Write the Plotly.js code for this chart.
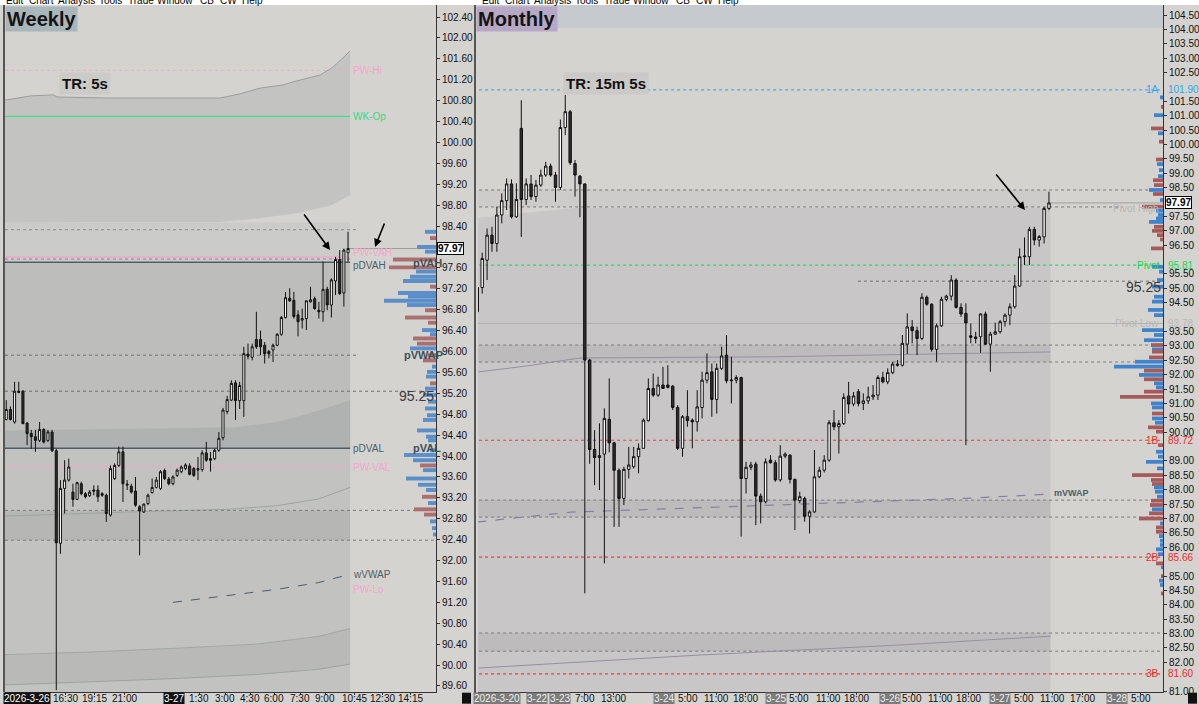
<!DOCTYPE html>
<html><head><meta charset="utf-8">
<script src="https://cdn.plot.ly/plotly-3.0.1.min.js"></script>
<style>html,body{margin:0;padding:0;background:#d4d3d0;overflow:hidden}#chart{width:1199px;height:704px}</style>
</head><body><div id="chart"></div>
<script>
// ---------------- Weekly panel data ----------------
const wOpen  = [94.70,94.89,94.65,95.24,95.24,94.63,94.43,94.37,94.30,94.51,94.30,94.46,94.10,92.33,93.38,93.54,93.31,93.17,93.47,93.28,93.24,93.35,93.35,93.28,93.25,92.87,93.57,93.82,94.08,93.44,93.42,93.33,93.03,92.93,93.09,93.30,93.40,93.38,93.72,93.56,93.47,93.63,93.70,93.76,93.81,93.76,93.73,93.74,94.06,93.95,93.95,94.11,94.35,94.85,95.07,95.40,95.06,95.06,95.95,95.89,96.23,96.23,96.12,96.00,96.03,96.12,96.33,96.65,97.02,96.98,96.70,96.60,96.63,96.95,97.01,96.79,96.76,97.19,96.89,97.35,97.76,97.12,97.89];
const wHigh  = [95.07,94.95,95.42,95.42,95.26,94.65,94.50,94.50,94.65,94.53,94.50,94.50,94.14,93.54,93.92,93.95,93.47,93.51,93.51,93.31,93.35,93.44,93.44,93.31,93.28,93.82,93.86,94.18,94.18,93.54,93.47,93.60,93.06,93.09,93.28,93.57,93.60,93.73,93.76,93.60,93.63,93.76,93.82,93.86,93.86,93.79,93.98,94.11,94.27,94.08,94.14,94.46,94.92,95.15,95.45,95.45,95.42,96.09,96.15,96.15,96.76,96.40,96.18,96.03,96.15,96.35,96.68,97.14,97.21,97.14,96.79,96.82,96.98,97.24,97.05,96.95,97.72,97.24,97.40,97.81,97.94,97.97,98.29];
const wLow   = [94.68,94.68,94.62,95.20,94.61,94.21,94.14,94.08,94.27,94.24,94.27,94.08,89.52,92.13,92.90,93.51,93.03,93.16,93.25,93.19,93.22,93.25,93.12,93.22,92.74,92.84,93.54,93.79,93.12,93.35,93.28,93.03,92.10,92.91,93.06,93.28,93.38,93.35,93.54,93.44,93.44,93.60,93.67,93.73,93.63,93.60,93.54,93.70,93.89,93.70,93.92,94.08,94.30,94.80,95.05,94.69,94.90,94.75,95.85,95.83,96.05,95.93,95.77,95.87,95.80,96.10,96.30,96.63,96.95,96.63,96.29,96.44,96.41,96.94,96.80,96.63,96.57,96.79,96.65,97.08,97.08,96.86,97.72];
const wClose = [94.89,94.70,95.24,95.22,94.62,94.43,94.37,94.30,94.51,94.27,94.46,94.10,92.34,93.38,93.54,93.79,93.17,93.49,93.28,93.22,93.31,93.33,93.22,93.25,92.90,93.76,93.82,94.08,93.47,93.46,93.31,93.06,92.95,93.08,93.25,93.40,93.54,93.70,93.57,93.47,93.60,93.73,93.79,93.83,93.65,93.63,93.76,94.06,93.92,93.92,94.11,94.34,94.88,95.08,95.39,95.06,95.35,95.96,95.91,96.09,96.09,96.09,95.96,95.96,96.12,96.33,96.65,97.03,96.97,96.67,96.57,96.63,96.97,96.99,96.82,96.76,97.19,96.89,97.37,97.76,97.11,97.94,97.97];
const wTickLabels = ['16:30','19:15','21:00','1:30','3:00','4:30','6:00','7:30','9:00','10:45','12:30','14:15'];
const wTickIdx    = [14.1,21.1,28.3,46.3,52.5,58.5,64.3,70.5,76.5,83.5,90.2,96.9];
const wDateLabels = ['2026-3-26','3-27'];
const wDateIdx    = [5.0,40.3];
const wPriceTicks = [102.4,102.0,101.6,101.2,100.8,100.4,100.0,99.6,99.2,98.8,98.4,97.6,97.2,96.8,96.4,96.0,95.6,95.2,94.8,94.4,94.0,93.6,93.2,92.8,92.4,92.0,91.6,91.2,90.8,90.4,90.0,89.6];
// levels (price) and names
const wLevelNames  = ['PW-Hi','WK-Op','PW-VAH','pDVAH','pDVAL','PW-VAL','wVWAP','PW-Lo'];
const wLevelValues = [101.38,100.50,97.81,97.71,94.15,93.79,91.74,91.45];
const wDotLevels   = [98.33,97.77,95.93,95.24,92.96,92.39];
// envelope curves
const wEnvTopIdx = [-0.3,5.8,11.3,12.2,24.2,51.3,56.1,60.9,66.4,68.8,75.3,78.4,82.5];
const wEnvTop    = [100.81,100.89,100.91,100.87,100.85,100.85,100.93,101.04,101.10,101.16,101.29,101.44,101.75];
const wEnvBotIdx = [-0.3,22,51,61,70,78,82.5];
const wEnvBot    = [98.47,98.48,98.48,98.55,98.65,98.80,98.99];
const wVaCurveIdx = [-0.3,55,65,72,78,82.5];
const wVaCurve    = [94.49,94.55,94.65,94.80,94.95,95.07];
const wLowCurveIdx = [-0.3,30,53,65,75,82.5];
const wLowCurve    = [92.85,92.93,92.98,93.05,93.18,93.40];
const wVwapIdx = [40,55,65,75,82.5];
const wVwap    = [91.20,91.35,91.45,91.58,91.74];
const wBotCurveIdx = [-0.3,20,40,60,75,82.5];
const wBotCurveA   = [89.62,89.68,89.74,89.82,89.92,90.02];
const wBotCurveB   = [90.20,90.25,90.32,90.40,90.55,90.70];
// weekly volume profile
const wProfPrice = [98.29,98.17,98.00,97.91,97.76,97.61,97.53,97.43,97.35,97.24,97.12,97.05,96.97,96.89,96.79,96.65,96.55,96.41,96.33,96.25,96.15,96.06,95.93,95.83,95.71,95.61,95.52,95.39,95.29,95.17,95.04,94.91,94.78,94.69,94.49,94.37,94.30,94.11,94.02,93.92,93.82,93.73,93.57,93.45,93.35,93.22,93.10,92.98,92.88,92.75,92.62,92.50];
const wProfVol   = [11,6,19,11,43,47,20,26,33,6,38,28,52,29,11,31,8,14,6,23,19,26,8,13,4,9,10,6,11,13,8,11,9,13,19,10,8,6,32,23,16,13,30,18,10,14,8,22,12,6,4,3];
const wProfSide  = ['b','r','b','b','r','r','b','b','b','r','b','b','b','b','r','r','r','b','b','r','r','b','r','r','b','b','b','r','b','b','b','b','b','b','b','b','b','b','b','b','r','b','b','b','b','r','b','r','r','b','b','b'];

// ---------------- Monthly panel data ----------------
const mOpen  = [94.19,95.03,95.98,96.85,96.56,97.55,98.05,98.63,97.49,100.56,98.09,98.63,98.19,98.59,98.94,99.25,98.94,98.51,100.59,101.14,99.34,98.90,98.63,92.51,89.40,89.12,89.24,90.45,89.63,88.68,87.70,88.71,88.80,89.15,89.44,90.40,91.52,91.29,91.64,91.64,91.60,90.86,89.44,90.54,90.42,90.36,90.86,91.81,92.10,91.14,92.22,92.68,91.79,91.81,91.90,88.39,88.78,88.89,87.78,87.58,89.03,88.94,88.34,89.17,89.20,88.36,87.62,87.70,87.08,87.23,88.45,88.68,89.03,90.33,90.19,90.30,91.26,90.98,91.41,91.00,91.09,91.23,91.29,91.90,91.75,92.07,92.37,92.33,93.06,93.66,93.53,93.26,94.69,94.45,92.88,93.70,94.62,94.73,95.29,94.34,94.13,93.35,93.31,93.32,94.11,93.06,93.41,93.49,93.84,94.07,94.36,95.08,96.10,96.10,97.05,96.68,96.79,97.78];
const mHigh  = [95.23,96.24,97.08,97.14,97.84,98.30,98.82,98.79,98.65,101.54,98.82,98.94,98.77,99.13,99.40,99.34,99.05,100.87,101.72,101.20,99.46,98.94,98.65,92.55,90.07,90.31,90.83,91.87,89.67,88.74,88.80,89.49,89.49,89.61,90.48,91.87,92.04,91.93,92.27,92.33,91.64,90.94,90.60,91.46,90.48,91.46,92.10,92.74,92.39,92.39,92.97,93.38,92.62,91.98,91.93,88.97,88.97,88.97,87.87,89.09,89.20,89.03,89.55,89.30,89.24,88.39,87.93,87.76,87.29,89.38,88.80,89.20,90.42,90.77,90.42,91.35,91.75,91.40,91.50,91.35,91.58,91.64,91.98,92.10,92.22,92.45,92.51,93.38,94.13,93.90,93.67,94.83,94.75,94.48,93.78,94.71,94.78,95.46,95.35,94.48,94.48,93.78,93.49,94.13,94.19,93.49,93.81,93.90,94.13,94.48,95.46,96.39,96.77,97.14,97.14,96.85,97.84,98.36];
const mLow   = [93.92,94.82,95.29,96.27,96.27,97.26,97.72,97.43,97.45,96.79,97.90,98.07,98.01,98.53,98.88,98.88,98.01,98.42,100.33,99.29,98.19,97.47,84.40,88.90,88.16,87.99,85.44,89.30,86.71,86.71,87.47,88.39,88.74,88.57,89.43,90.37,91.23,91.23,91.52,91.52,90.77,89.38,89.15,90.19,89.44,90.02,90.48,91.70,90.54,90.65,92.16,91.70,91.00,91.70,86.37,87.87,88.68,86.77,86.83,87.53,88.91,88.28,88.28,89.10,88.22,86.60,87.53,86.89,86.48,87.20,88.40,88.60,88.97,90.07,89.26,90.25,90.65,90.90,90.90,90.77,90.98,91.12,91.12,91.70,91.67,92.02,92.28,92.28,92.72,93.09,92.68,93.20,94.40,92.80,92.45,93.66,94.55,94.58,94.30,94.01,89.55,93.09,93.09,92.76,93.03,92.10,93.38,93.43,93.67,93.72,94.30,95.06,95.81,95.81,96.50,96.45,96.56,97.72];
const mClose = [95.03,96.04,96.85,96.56,97.55,98.05,98.63,97.49,98.09,98.09,98.63,98.19,98.59,98.94,99.25,98.94,98.51,100.59,101.14,99.37,98.94,98.63,92.51,89.40,89.12,89.19,90.48,89.63,88.68,87.70,88.71,88.86,89.15,89.44,90.42,91.52,91.29,91.64,91.52,91.56,90.86,89.44,90.54,90.40,90.36,90.88,91.81,92.07,91.14,92.22,92.65,91.79,91.81,91.90,88.39,88.78,88.86,87.78,87.58,88.97,88.94,88.34,89.17,89.24,88.36,87.64,87.76,87.08,87.23,88.45,88.68,89.03,90.33,90.19,90.30,91.21,90.98,91.26,91.00,91.09,91.23,91.29,91.90,91.75,92.07,92.37,92.33,93.09,93.66,93.53,93.26,94.69,94.45,92.88,93.70,94.62,94.73,95.29,94.34,94.11,93.80,93.30,93.26,94.11,93.06,93.41,93.49,93.84,94.07,94.36,95.08,96.10,96.12,97.05,96.68,96.80,97.78,97.97];
const mTickLabels = ['7:00','13:00','5:00','11:00','18:00','5:00','11:00','18:00','5:00','11:00','18:00','5:00','11:00','17:00','5:00'];
const mTickIdx    = [22.0,27.9,43.1,48.9,54.9,65.9,71.8,77.7,89.0,94.7,100.6,111.9,117.8,123.8,135.8];
const mDateLabels = ['2026-3-20','3-22','3-23','3-24','3-25','3-26','3-27','3-28'];
const mDateIdx    = [4.0,12.2,16.9,38.2,61.1,84.5,107.0,130.9];
const mPriceTicks = [104.5,104.0,103.5,103.0,102.5,101.5,101.0,100.5,100.0,99.5,99.0,98.5,97.5,97.0,96.5,95.5,95.0,94.5,93.5,93.0,92.5,92.0,91.5,91.0,90.5,90.0,89.0,88.5,88.0,87.5,87.0,86.5,86.0,85.0,84.5,84.0,83.5,83.0,82.5,82.0,81.0];
const mLevelNames  = ['1A','Pivot High','Pivot','Pivot Low','1B','2B','3B'];
const mLevelValues = [101.90,97.78,95.81,93.78,89.72,85.66,81.60];
const mDotLevels   = [98.42,97.83,93.03,92.44,87.64,87.05,83.02,82.39];
const mBands       = [[93.03,92.44],[87.64,87.05],[83.02,82.39]];
const mVaTopIdx = [0,11,20,117.3];
const mVaTop    = [97.44,97.65,97.79,97.80];
const mUpperVwapIdx = [0,10,21,60,117.3];
const mUpperVwap    = [92.09,92.30,92.58,92.62,92.79];
const mVwapIdx = [0,19,73,101,117.3];
const mVwap    = [86.88,87.22,87.54,87.71,87.85];
const mLowVwapIdx = [0,45,86,117.3];
const mLowVwap    = [81.80,82.25,82.60,82.91];
const mProfPrice = [101.64,101.31,101.02,100.56,100.39,100.10,99.48,99.32,99.11,98.90,98.76,98.59,98.42,98.28,98.07,97.84,97.70,97.55,97.43,97.31,97.14,97.00,96.85,96.70,96.39,95.75,95.58,95.29,95.06,94.71,94.54,94.25,94.07,93.55,93.38,93.20,93.03,92.88,92.80,92.60,92.45,92.28,92.14,91.99,91.84,91.70,91.56,91.41,91.23,91.00,90.86,90.65,90.48,90.33,90.17,90.02,89.55,89.32,89.15,88.97,88.74,88.51,88.34,88.20,88.08,87.93,87.76,87.62,87.47,87.32,87.18,87.00,86.83,86.69,86.54,86.39,86.23,86.08,85.93,85.76,85.44,85.30,85.00,84.84,84.69,84.40];
const mProfVol   = [3,2,9,12,5,4,7,6,4,5,10,9,14,10,3,21,7,5,7,14,9,11,6,3,12,11,4,6,11,9,11,15,9,21,9,19,12,11,11,14,28,49,19,24,19,9,7,19,43,12,11,11,11,8,15,7,5,7,5,17,6,31,12,11,9,8,6,12,13,11,14,24,3,7,7,4,3,3,7,5,7,2,2,4,3,2];
const mProfSide  = ['b','r','b','r','b','r','r','b','b','b','r','r','b','r','b','r','b','b','b','b','r','r','r','r','r','b','b','b','b','b','b','b','b','b','b','b','r','b','r','r','b','b','r','b','r','b','b','r','r','b','b','r','b','b','r','r','r','b','b','b','b','r','r','r','b','b','b','r','r','b','r','r','b','r','r','b','b','b','b','b','r','b','r','b','b','r'];
const lastPrice = 97.97;

// ---------------- helpers ----------------
const W = 1199, H = 704, T = 5, B = 12, PH = H - T - B;
const px = x => x / W;
const py = y => 1 - (y - T) / PH;
const FONT = 'Liberation Sans, Arial, sans-serif';
const shapes = [];
function pathOf(xs, ys, close) {
  return xs.map((x, i) => (i ? 'L' : 'M') + x + ',' + ys[i]).join(' ') + (close ? ' Z' : '');
}
function polyFill(xa, ya, xsT, top, xsB, bot, color) {
  shapes.push({type:'path', xref:xa, yref:ya, layer:'below', fillcolor:color, line:{width:0},
    path: pathOf(xsT.concat(xsB.slice().reverse()), top.concat(bot.slice().reverse()), true)});
}
function band(xa, ya, i0, i1, hi, lo, color) {
  shapes.push({type:'rect', xref:xa, yref:ya, layer:'below', x0:i0, x1:i1, y0:lo, y1:hi, fillcolor:color, line:{width:0}});
}
function hline(xa, ya, i0, i1, v, color, dash, width) {
  shapes.push({type:'line', xref:xa, yref:ya, layer:'below', x0:i0, x1:i1, y0:v, y1:v, line:{color:color, dash:dash || 'solid', width:width || 1}});
}
function curve(xa, ya, xs, ys, color, dash, width) {
  shapes.push({type:'path', xref:xa, yref:ya, layer:'below', path: pathOf(xs, ys, false), line:{color:color, dash:dash || 'solid', width:width || 1}});
}
const idx = a => a.map((_, i) => i);
const traces = [];

// ---------------- Weekly panel layers ----------------
const WL = -0.3, WR = 103.1, WEND = 82.5;
const wYmin = 89.485, wYmax = 102.63;
band('x','y', WL, WEND, wLevelValues[3], wYmin - 1, '#c2c3c1');
band('x','y', WL, WEND, wEnvBot[0], wLevelValues[3], '#cbcbc9');
polyFill('x','y', wEnvTopIdx, wEnvTop, wEnvBotIdx, wEnvBot, '#c3c4c2');
band('x','y', WL, WEND, wLevelValues[3], wLevelValues[4], '#bdbebc');
polyFill('x','y', wVaCurveIdx, wVaCurve, [WL, WEND], [wLevelValues[4], wLevelValues[4]], '#afb2b1');
band('x','y', WL, WEND, wDotLevels[4], wDotLevels[5], '#b6b7b5');
polyFill('x','y', wBotCurveIdx, wBotCurveB, wBotCurveIdx, wBotCurveA, '#b9bab8');
curve('x','y', wLowCurveIdx, wLowCurve, '#9ea3a3', 'solid', 1);
curve('x','y', wBotCurveIdx, wBotCurveA, '#9ea3a3', 'solid', 1);
curve('x','y', wBotCurveIdx, wBotCurveB, '#a3a7a7', 'solid', 1);
curve('x','y', wEnvTopIdx, wEnvTop, '#9b9e9e', 'solid', 1);
curve('x','y', wVwapIdx, wVwap, '#4d5c66', 'dash', 1);
hline('x','y', WL, WEND, wLevelValues[0], '#f4a6cd', 'dot', 1);
hline('x','y', WL, WEND, wLevelValues[1], '#3fe08a', 'solid', 1.2);
hline('x','y', WL, 84, wDotLevels[0], '#8a8a8a', 'dot', 1);
hline('x','y', WL, WEND, wLevelValues[2], '#f0a6c8', 'solid', 1.5);
hline('x','y', WL, WEND, wDotLevels[1], '#8a8a8a', 'dot', 1);
hline('x','y', WL, WEND, wLevelValues[3], '#4c5e66', 'solid', 1.5);
hline('x','y', WL, 84, wDotLevels[2], '#6e6e6e', 'dot', 1);
hline('x','y', WL, WR, wDotLevels[3], '#6e6e6e', 'dot', 1);
hline('x','y', WL, WEND, wLevelValues[4], '#4c5e66', 'solid', 1.5);
hline('x','y', WL, WEND, wLevelValues[5], '#f0a6c8', 'solid', 1.2);
hline('x','y', WL, WR, wDotLevels[4], '#7a7a7a', 'dot', 1);
hline('x','y', WL, WR, wDotLevels[5], '#7a7a7a', 'dot', 1);
hline('x','y', 82, WR, lastPrice, '#9a9a9a', 'solid', 1);

traces.push({type:'bar', orientation:'h', x: wProfVol, y: wProfPrice, width:0.075, xaxis:'x3', yaxis:'y',
  marker:{color: wProfSide.map(s => s === 'b' ? '#5b8fca' : '#a9706f'), line:{width:0}}, hoverinfo:'skip', showlegend:false});
traces.push({type:'candlestick', x: idx(wOpen), open: wOpen, high: wHigh, low: wLow, close: wClose, xaxis:'x', yaxis:'y',
  increasing:{line:{color:'#111', width:1}, fillcolor:'#ffffff'}, decreasing:{line:{color:'#111', width:1}, fillcolor:'#2e2e2e'},
  whiskerwidth:0, hoverinfo:'skip', showlegend:false});

// ---------------- Monthly panel layers ----------------
const ML = 0.14, MR = 140.34, MEND = 117.3;
const mYmin = 80.97, mYmax = 104.85;
band('x2','y2', -1, MR + 2, mYmax + 1, 104.05, '#c6c9cd');
band('x2','y2', ML - 1, MEND, mDotLevels[0], mDotLevels[1], '#cdcccb');
polyFill('x2','y2', mVaTopIdx, mVaTop, [ML - 1, MEND], [mYmin - 1, mYmin - 1], '#c9c6c8');
mBands.forEach(b => band('x2','y2', ML - 1, MEND, b[0], b[1], '#bebbbd'));
hline('x2','y2', ML - 1, MR, mLevelValues[0], '#3fb0ea', 'dot', 1.2);
hline('x2','y2', ML - 1, MR, mDotLevels[0], '#7a7a7a', 'dot', 1);
hline('x2','y2', ML - 1, 132, mDotLevels[1], '#7a7a7a', 'dot', 1);
hline('x2','y2', 117, MR, lastPrice, '#a0a0a0', 'solid', 1);
hline('x2','y2', ML - 1, MR, mLevelValues[2], '#22e05a', 'dot', 1.2);
hline('x2','y2', 77.9, MR, 95.25, '#6e6e6e', 'dot', 1);
hline('x2','y2', ML - 1, MR, mLevelValues[3], '#b3b0b2', 'solid', 1);
[2,3,4,5,6,7].forEach(k => hline('x2','y2', ML - 1, MR, mDotLevels[k], '#7a7a7a', 'dot', 1));
[4,5,6].forEach(k => hline('x2','y2', ML - 1, MR, mLevelValues[k], '#ea3b3b', 'dot', 1.2));
curve('x2','y2', mUpperVwapIdx, mUpperVwap, '#9a8ea2', 'solid', 1);
curve('x2','y2', mVwapIdx, mVwap, '#8c7f98', 'dash', 1.2);
curve('x2','y2', mLowVwapIdx, mLowVwap, '#9a8ea2', 'solid', 1);
traces.push({type:'bar', orientation:'h', x: mProfVol, y: mProfPrice, width:0.13, xaxis:'x4', yaxis:'y2',
  marker:{color: mProfSide.map(s => s === 'b' ? '#3f83cc' : '#a65a5a'), line:{width:0}}, hoverinfo:'skip', showlegend:false});
traces.push({type:'candlestick', x: idx(mOpen), open: mOpen, high: mHigh, low: mLow, close: mClose, xaxis:'x2', yaxis:'y2',
  increasing:{line:{color:'#111', width:1}, fillcolor:'#ffffff'}, decreasing:{line:{color:'#111', width:1}, fillcolor:'#2e2e2e'},
  whiskerwidth:0, hoverinfo:'skip', showlegend:false});

// ---------------- annotations ----------------
const ann = [];
function txt(x, y, text, o) {
  ann.push(Object.assign({x: x, y: y, text: text, showarrow:false, xanchor:'left', yanchor:'middle',
    font:{family: FONT, size: 10, color:'#333'}}, o || {}));
}
const menuItems = ['Edit','Chart','Analysis','Tools','Trade','Window','CB','CW','Help'];
const menuX = [14,41,76,110,141,175,207,228,252];
menuItems.forEach((t, k) => {
  [0, 476].forEach(off => txt(px(menuX[k] + off), 1, t, {xref:'paper', yref:'paper', xanchor:'center', yanchor:'bottom', yshift:-2,
    borderpad:0, font:{family:FONT, size:10, color:'#000'}}));
});
txt(px(5), py(6), '<b>Weekly</b>', {xref:'paper', yref:'paper', yanchor:'top', bgcolor:'#a9b7bb', borderpad:1, font:{family:FONT, size:20, color:'#141414'}});
txt(px(476), py(6), '<b>Monthly</b>', {xref:'paper', yref:'paper', yanchor:'top', bgcolor:'#b7a9c5', borderpad:1, font:{family:FONT, size:20, color:'#141414'}});
txt(px(59), py(84), '<b>TR: 5s</b>', {xref:'paper', yref:'paper', bgcolor:'#cbcbc8', borderpad:2, font:{family:FONT, size:15, color:'#111'}});
txt(px(563), py(84), '<b>TR: 15m 5s</b>', {xref:'paper', yref:'paper', bgcolor:'#cbcac8', borderpad:2, font:{family:FONT, size:15, color:'#111'}});
const wLabColors = ['#f4a6cd','#36d97f','#f4a6cd','#4c5e66','#4c5e66','#f4a6cd','#4c5e66','#f4a6cd'];
const wLabY = [101.38,100.50,97.90,97.64,94.15,93.79,91.74,91.45];
wLevelNames.forEach((n, k) => txt(82.8, wLabY[k], n, {xref:'x', yref:'y', font:{family:FONT, size:10, color: wLabColors[k]}}));
txt(px(411), py(263), '<b>pVAH</b>', {xref:'paper', yref:'paper', font:{family:FONT, size:11, color:'#3f4f57'}});
txt(px(402), py(355), '<b>pVWAP</b>', {xref:'paper', yref:'paper', font:{family:FONT, size:11, color:'#3f4f57'}});
txt(px(411), py(448), '<b>pVAL</b>', {xref:'paper', yref:'paper', font:{family:FONT, size:11, color:'#3f4f57'}});
txt(px(436), 95.25, '95.25', {xref:'paper', yref:'y', xanchor:'right', yshift:-5, font:{family:FONT, size:14, color:'#3a3a3a'}});
txt(px(437), lastPrice, '<b>97.97</b>', {xref:'paper', yref:'y', bgcolor:'#ffffff', bordercolor:'#000', borderwidth:1, borderpad:0, font:{family:FONT, size:10, color:'#000'}});
const mLabColors = ['#2ea8ea','#b9b7b6','#19d84c','#b9b7b6','#ee2a2a','#ee2a2a','#ee2a2a'];
mLevelValues.forEach((v, k) => {
  txt(px(1161), v, mLevelNames[k], {xref:'paper', yref:'y2', xanchor:'right', font:{family:FONT, size:10, color: mLabColors[k]}});
  if (k !== 1) txt(px(1167), v, v.toFixed(2), {xref:'paper', yref:'y2', borderpad:0, font:{family:FONT, size:10, color: mLabColors[k]}});
});
txt(px(1163), 95.25, '95.25', {xref:'paper', yref:'y2', xanchor:'right', yshift:-6, font:{family:FONT, size:14, color:'#3a3a3a'}});
txt(px(1052), 87.88, '<b>mVWAP</b>', {xref:'paper', yref:'y2', font:{family:FONT, size:9, color:'#4c5e66'}});
txt(px(1165), lastPrice, '<b>97.97</b>', {xref:'paper', yref:'y2', bgcolor:'#ffffff', bordercolor:'#000', borderwidth:1, borderpad:0, font:{family:FONT, size:10, color:'#000'}});
// time-axis labels (drawn as text under the axis line)
const axLab = {family: FONT, size: 10, color:'#111'};
wTickLabels.forEach((t, k) => ann.push({x: wTickIdx[k], y: 0, xref:'x', yref:'paper', yanchor:'top', yshift:0, text: t, showarrow:false, font: axLab, borderpad:0}));
mTickLabels.forEach((t, k) => ann.push({x: mTickIdx[k], y: 0, xref:'x2', yref:'paper', yanchor:'top', yshift:0, text: t, showarrow:false, font: axLab, borderpad:0}));
wDateLabels.forEach((t, k) => ann.push({x: wDateIdx[k], y: 0, xref:'x', yref:'paper', yanchor:'top', yshift:0, text: t, showarrow:false,
  bgcolor:'#111', font:{family:FONT, size:10, color:'#fff'}, borderpad:0}));
mDateLabels.forEach((t, k) => ann.push({x: mDateIdx[k], y: 0, xref:'x2', yref:'paper', yanchor:'top', yshift:0, text: t, showarrow:false,
  bgcolor:'#7c7c7c', font:{family:FONT, size:10, color:'#eeeeee'}, borderpad:0}));
[[330,250,-27,-37],[375,247,10,-25],[1025,210,-30,-37]].forEach(a => ann.push({x: px(a[0]), y: py(a[1]), xref:'paper', yref:'paper',
  ax: a[2], ay: a[3], showarrow:true, arrowhead:2, arrowsize:1, arrowwidth:1.6, arrowcolor:'#000', text:''}));

// ---------------- layout ----------------
const axFont = {family: FONT, size: 10, color:'#111'};
shapes.push(
  {type:'rect', xref:'paper', yref:'paper', x0:0, x1:1, y0:1, y1:1.03, fillcolor:'#ffffff', line:{width:0}, layer:'below'},
  {type:'line', xref:'paper', yref:'paper', x0:px(4), x1:px(4), y0:0, y1:1, line:{color:'#555', width:2}},
  {type:'line', xref:'paper', yref:'paper', x0:px(475), x1:px(475), y0:-0.02, y1:1, line:{color:'#555', width:2}},
  {type:'rect', xref:'paper', yref:'paper', x0:px(462), x1:px(471), y0:-0.017, y1:-0.001, fillcolor:'#111', line:{width:0}},
  {type:'rect', xref:'paper', yref:'paper', x0:px(1188), x1:px(1197), y0:-0.017, y1:-0.001, fillcolor:'#111', line:{width:0}}
);
const layout = {
  width: W, height: H, margin:{l:0, r:0, t:T, b:B}, paper_bgcolor:'#d4d3d0', plot_bgcolor:'rgba(0,0,0,0)',
  showlegend:false, boxgap:0.3, dragmode:false,
  xaxis:{domain:[px(5), px(436)], range:[WL, WR], anchor:'y', showgrid:false, zeroline:false, rangeslider:{visible:false},
    showline:true, linecolor:'#333', ticks:'outside', ticklen:2, tickcolor:'#333', tickvals: wTickIdx.concat(wDateIdx), showticklabels:false},
  yaxis:{domain:[0, 1], range:[wYmin, wYmax], anchor:'x', side:'right', showgrid:false, zeroline:false, showline:true, linecolor:'#333',
    ticks:'outside', ticklen:3, tickcolor:'#333', tickvals: wPriceTicks, ticktext: wPriceTicks.map(v => v.toFixed(2)), tickfont: axFont},
  xaxis2:{domain:[px(478), px(1163)], range:[ML, MR], anchor:'y2', showgrid:false, zeroline:false, rangeslider:{visible:false},
    showline:true, linecolor:'#333', ticks:'outside', ticklen:2, tickcolor:'#333', tickvals: mTickIdx.concat(mDateIdx), showticklabels:false},
  yaxis2:{domain:[0, 1], range:[mYmin, mYmax], anchor:'x2', side:'right', showgrid:false, zeroline:false, showline:true, linecolor:'#333',
    ticks:'outside', ticklen:3, tickcolor:'#333', tickvals: mPriceTicks, ticktext: mPriceTicks.map(v => v.toFixed(2)), tickfont: axFont},
  xaxis3:{domain:[px(380), px(436)], range:[56, 0], anchor:'y', visible:false, fixedrange:true},
  xaxis4:{domain:[px(1100), px(1163)], range:[63, 0], anchor:'y2', visible:false, fixedrange:true},
  annotations: ann,
  shapes: shapes
};
Plotly.newPlot('chart', traces, layout, {staticPlot:true, displayModeBar:false});
</script></body></html>
